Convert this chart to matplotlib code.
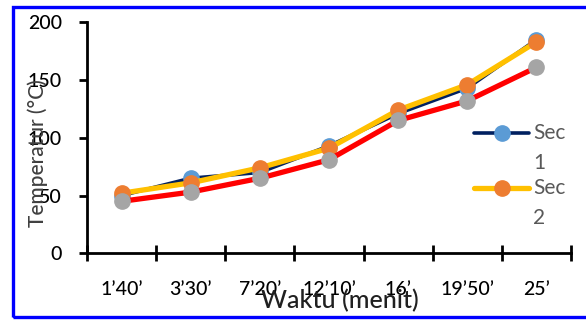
import matplotlib
matplotlib.use("Agg")
import matplotlib.pyplot as plt
from matplotlib.lines import Line2D
from matplotlib.patches import Rectangle

plt.rcParams['font.family'] = ['Lato', 'DejaVu Sans']

categories = ["1\u201940\u2019", "3\u201930\u2019", "7\u201920\u2019", "12\u201910\u2019",
              "16\u2019", "19\u201950\u2019", "25\u2019"]
series_names = ["Sec 1", "Sec 2", "Sec 3"]
sec1 = [50, 65, 70, 93, 121, 143, 185]
sec2 = [52, 61, 74, 91, 124, 146, 183]
sec3 = [45, 53, 65, 81, 115, 132, 161]
y_ticks = [0, 50, 100, 150, 200]

line_colors = ["#002060", "#FFC000", "#FF0000"]
marker_colors = ["#5B9BD5", "#ED7D31", "#A5A5A5"]
line_widths = [2.6, 3.8, 3.8]

W, H = 586, 321
fig = plt.figure(figsize=(W / 100, H / 100), dpi=100)
ax = fig.add_axes([87 / W, 1 - 253.3 / H, (571 - 87) / W, (253.3 - 22.3) / H])

x = list(range(len(categories)))
for vals, lc, mc, lw in zip([sec1, sec2, sec3], line_colors, marker_colors, line_widths):
    ax.plot(x, vals, color=lc, lw=lw, marker='o', markersize=11,
            markerfacecolor=mc, markeredgecolor=mc, solid_capstyle='round', zorder=3)

ax.set_xlim(-0.5, len(categories) - 0.5)
ax.set_ylim(0, 200)
ax.set_yticks(y_ticks)
ax.set_yticklabels([str(v) for v in y_ticks], fontsize=14, fontweight='medium')
ax.set_xticks([i - 0.5 for i in range(len(categories) + 1)])
ax.set_xticklabels([])
ax.set_xticks(x, minor=True)
ax.set_xticklabels(categories, minor=True, fontsize=14, fontweight='medium')
ax.tick_params(axis='x', which='major', direction='inout', length=12, width=2)
ax.tick_params(axis='x', which='minor', length=0, pad=20)
ax.tick_params(axis='y', direction='out', length=6, width=2, pad=12)

for s in ['top', 'right']:
    ax.spines[s].set_visible(False)
for s in ['left', 'bottom']:
    ax.spines[s].set_linewidth(2)
ax.set_facecolor('none')

fig.text(340 / W, 1 - 308 / H, "Waktu (menit)", fontsize=18, ha='center', va='baseline',
         color='#202020', fontweight='medium')
fig.text(44 / W, 1 - 153 / H, "Temperatur (\u00b0C)", fontsize=15, rotation=90,
         rotation_mode='anchor', ha='center', va='baseline', color='#404040', fontweight='medium')

# legend (first two series visible)
rows = [133.3, 188.3]
for i, yy in enumerate(rows):
    fy = 1 - yy / H
    fig.add_artist(Line2D([474 / W, 529 / W], [fy, fy], color=line_colors[i], lw=line_widths[i],
                          solid_capstyle='round'))
    fig.add_artist(Line2D([501.5 / W], [fy], marker='o', markersize=11, color=marker_colors[i],
                          lw=0))
    a, b = series_names[i].split(" ")
    fig.text(533 / W, fy, a, fontsize=15, ha='left', va='center', color='#595959')
    fig.text(533 / W, 1 - (yy + 29.5) / H, b, fontsize=15, ha='left', va='center', color='#595959')

fig.add_artist(Rectangle((12.7 / W, 1 - 316.8 / H), 1.05, (316.8 - 7.3) / H,
                         transform=fig.transFigure, fill=False, edgecolor='#0000FF', lw=2.4))

fig.savefig("out.png", dpi=100)
